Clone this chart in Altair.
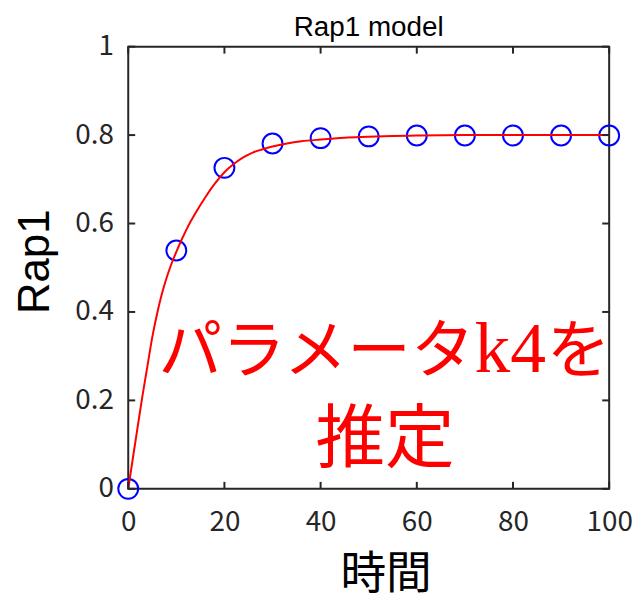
import altair as alt
import pandas as pd

# observed data (blue circles)
t_obs = [0, 10, 20, 30, 40, 50, 60, 70, 80, 90, 100]
rap1_obs = [0.0, 0.539, 0.726, 0.781, 0.793, 0.797, 0.799, 0.799, 0.799, 0.799, 0.799]

# fitted model curve (red line)
t_fit = [0, 1, 2, 3, 4, 5, 6, 7, 8, 9, 10, 11, 12, 13, 14, 16, 18, 20, 22, 24, 26,
         28, 30, 33, 36, 40, 45, 50, 55, 60, 70, 80, 90, 100]
rap1_fit = [0.0, 0.072, 0.143, 0.213, 0.278, 0.343, 0.396, 0.441, 0.478, 0.509, 0.536,
            0.561, 0.584, 0.605, 0.624, 0.659, 0.690, 0.716, 0.735, 0.750, 0.761,
            0.768, 0.774, 0.781, 0.786, 0.790, 0.794, 0.796, 0.798, 0.799, 0.800,
            0.800, 0.800, 0.800]

x_ticks = [0, 20, 40, 60, 80, 100]
y_ticks = [0, 0.2, 0.4, 0.6, 0.8, 1]

chart_title = "Rap1 model"
x_title = "時間"
y_title = "Rap1"
note_part1 = "パラメータ"
note_part2 = "k4"
note_part3 = "を"
note_line2 = "推定"

W, H = 484, 445
AX = "#262626"
JP = "Noto Sans CJK JP"
SANS = "Liberation Sans"

xs = alt.Scale(domain=[0, 100], nice=False, zero=False)
ys = alt.Scale(domain=[0, 1], nice=False, zero=False)

obs = pd.DataFrame({"t": t_obs, "v": rap1_obs})
fit = pd.DataFrame({"t": t_fit, "v": rap1_fit})
xt = pd.DataFrame({"t": x_ticks})
yt = pd.DataFrame({"v": y_ticks})

x_axis = alt.Axis(values=x_ticks, title=x_title, grid=False, domain=False, ticks=False,
                  tickSize=0, labelFontSize=28, labelColor=AX, labelFont=JP,
                  labelPadding=20, labelFlush=False,
                  titleFont=JP, titleFontSize=46, titleFontWeight="normal",
                  titleColor="#000000", titleX=259, titleY=100,
                  titleBaseline="alphabetic", titleAlign="center")
y_axis = alt.Axis(values=y_ticks, title=y_title, grid=False, domain=False, ticks=False,
                  tickSize=0, format="~g", labelFontSize=28, labelColor=AX, labelFont=JP,
                  labelPadding=15, labelFlush=False,
                  titleFont=SANS, titleFontSize=44, titleFontWeight="normal",
                  titleColor="#000000", titleX=-80, titleY=216,
                  titleBaseline="alphabetic", titleAlign="center", titleAngle=270)

points = alt.Chart(obs).mark_point(shape="circle", filled=False, size=400,
                                   stroke="#0000ff", strokeWidth=2, opacity=1).encode(
    x=alt.X("t:Q", scale=xs, axis=x_axis),
    y=alt.Y("v:Q", scale=ys, axis=y_axis),
)

line = alt.Chart(fit).mark_line(color="#ff0000", strokeWidth=2,
                                interpolate="monotone").encode(
    x=alt.X("t:Q", scale=xs),
    y=alt.Y("v:Q", scale=ys),
)

tick_style = dict(color=AX, thickness=2, size=7, opacity=1)
bottom_ticks = alt.Chart(xt).mark_tick(orient="vertical", **tick_style).encode(
    x=alt.X("t:Q", scale=xs), y=alt.value(H - 3.5))
top_ticks = alt.Chart(xt).mark_tick(orient="vertical", **tick_style).encode(
    x=alt.X("t:Q", scale=xs), y=alt.value(3.5))
left_ticks = alt.Chart(yt).mark_tick(orient="horizontal", **tick_style).encode(
    y=alt.Y("v:Q", scale=ys), x=alt.value(3.5))
right_ticks = alt.Chart(yt).mark_tick(orient="horizontal", **tick_style).encode(
    y=alt.Y("v:Q", scale=ys), x=alt.value(W - 3.5))

notes = pd.DataFrame({
    "t": [72.0, 72.0, 87.0, 53.4],
    "v": [0.265, 0.265, 0.265, 0.061],
    "txt": [note_part1, note_part2, note_part3, note_line2],
})

def note(i, font, size, align):
    return alt.Chart(notes.iloc[[i]]).mark_text(
        font=font, fontSize=size, color="#ff0000", align=align, baseline="alphabetic"
    ).encode(x=alt.X("t:Q", scale=xs), y=alt.Y("v:Q", scale=ys), text="txt:N")

txt1 = note(0, JP, 64, "right")
txt2 = note(1, "Liberation Serif", 72, "left")
txt3 = note(2, JP, 64, "left")
txt4 = note(3, JP, 70, "center")

chart = alt.layer(
    points, line, bottom_ticks, top_ticks, left_ticks, right_ticks,
    txt1, txt2, txt3, txt4
).properties(
    width=W, height=H,
    title=alt.TitleParams(chart_title, font=SANS, fontSize=28, fontWeight="normal",
                          color="#000000", anchor="middle", frame="group",
                          offset=-9),
    autosize=alt.AutoSizeParams(type="none"),
    padding={"left": 121, "top": 37, "right": 27, "bottom": 113},
    background="#ffffff",
).configure_view(
    stroke=AX, strokeWidth=2
)

chart.save("out.html", embed_options={"renderer": "svg", "actions": False})
